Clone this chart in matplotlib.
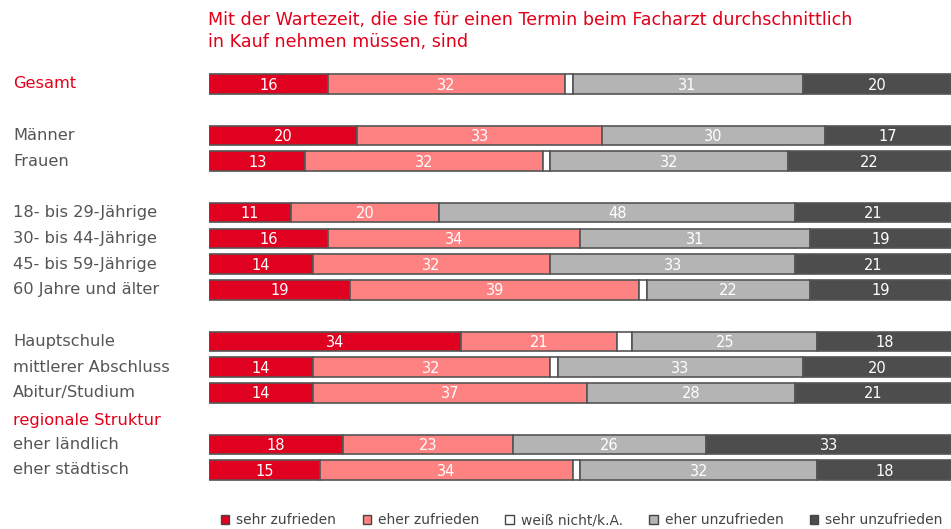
import numpy as np
import matplotlib.pyplot as plt
from matplotlib.patches import Patch

# categories (None = empty row, "#..." = section header)
rows = ["Gesamt", None, "Männer", "Frauen", None,
        "18- bis 29-Jährige", "30- bis 44-Jährige", "45- bis 59-Jährige", "60 Jahre und älter", None,
        "Hauptschule", "mittlerer Abschluss", "Abitur/Studium", "#regionale Struktur",
        "eher ländlich", "eher städtisch"]

groups = ["Gesamt", "Männer", "Frauen",
          "18- bis 29-Jährige", "30- bis 44-Jährige", "45- bis 59-Jährige", "60 Jahre und älter",
          "Hauptschule", "mittlerer Abschluss", "Abitur/Studium",
          "eher ländlich", "eher städtisch"]

sehr_zufrieden = [16, 20, 13, 11, 16, 14, 19, 34, 14, 14, 18, 15]
eher_zufrieden = [32, 33, 32, 20, 34, 32, 39, 21, 32, 37, 23, 34]
weiss_nicht = [1, 0, 1, 0, 0, 0, 1, 2, 1, 0, 0, 1]
eher_unzufrieden = [31, 30, 32, 48, 31, 33, 22, 25, 33, 28, 26, 32]
sehr_unzufrieden = [20, 17, 22, 21, 19, 21, 19, 18, 20, 21, 33, 18]

series = ["sehr zufrieden", "eher zufrieden", "weiß nicht/k.A.", "eher unzufrieden", "sehr unzufrieden"]
colors = ["#e0001f", "#ff8282", "#ffffff", "#b4b4b4", "#4d4d4d"]

title = "Mit der Wartezeit, die sie für einen Termin beim Facharzt durchschnittlich\nin Kauf nehmen müssen, sind"

red = "#e2001a"
grey_txt = "#555555"

fig = plt.figure(figsize=(9.51, 5.29), dpi=100)
W, H = 951, 529
ax = fig.add_axes([209 / W, 0, 1 - 209 / W, 1])
ax.set_xlim(0, 100)
ax.set_ylim(H, 0)  # pixel-like vertical scale
ax.axis("off")

y0 = 84
pitch = (470 - 84) / 15
bar_h = 19.5

data = np.array([sehr_zufrieden, eher_zufrieden, weiss_nicht, eher_unzufrieden, sehr_unzufrieden]).T

gi = 0
for i, r in enumerate(rows):
    y = y0 + i * pitch
    if r is None:
        continue
    if r.startswith("#"):
        fig.text(13 / W, 1 - (y + 2) / H, r[1:], color=red, fontsize=11.7, va="center", ha="left")
        continue
    fig.text(13 / W, 1 - y / H, r, color=grey_txt if r != "Gesamt" else red,
             fontsize=11.7, va="center", ha="left")
    vals = data[gi]
    left = 0
    for k, v in enumerate(vals):
        if v > 0:
            ax.barh(y, v, left=left, height=bar_h, color=colors[k],
                    edgecolor="#555555", linewidth=1.2)
            if k != 2:
                ax.text(left + v / 2, y + 1, str(v), color="white", fontsize=10.5,
                        ha="center", va="center")
        left += v
    gi += 1

fig.text(208 / W, 1 - 31 / H, title, color=red, fontsize=12.6, ha="left", va="center",
         linespacing=1.25)

handles = [Patch(facecolor=c, edgecolor="#444444", linewidth=1) for c in colors]
fig.legend(handles, series, loc="lower right", bbox_to_anchor=(1.004, -0.02), ncol=5,
           frameon=False, fontsize=10, handlelength=0.6, handleheight=0.6,
           handletextpad=0.5, columnspacing=1.9, labelcolor="#444444")

fig.savefig("out.png", dpi=100)
